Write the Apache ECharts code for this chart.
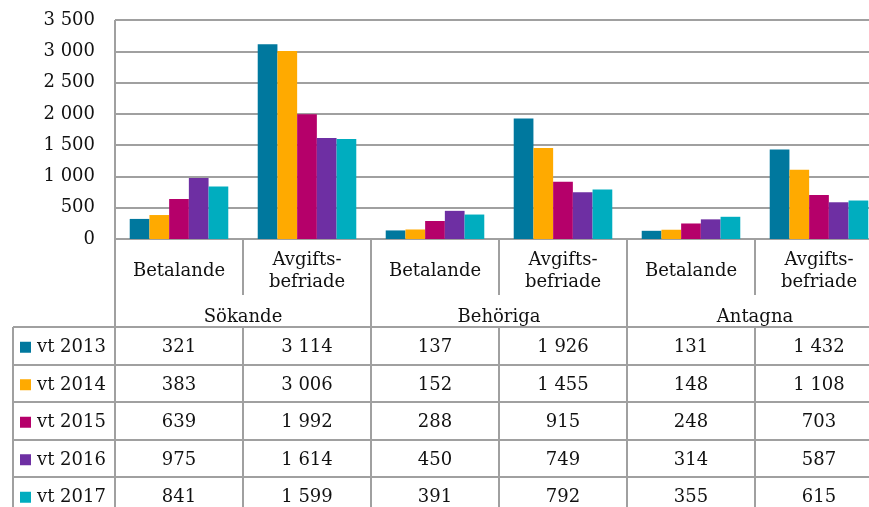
<!DOCTYPE html>
<html>
<head>
<meta charset="utf-8">
<script src="https://cdn.jsdelivr.net/npm/echarts@6/dist/echarts.min.js"></script>
<style>
  html, body { margin: 0; padding: 0; background: #fff; overflow: hidden; }
  /* diagrammet fortsätter lite utanför högerkanten, som i originalet */
  #main { width: 883px; height: 507px; }
</style>
</head>
<body>
<div id="main"></div>
<script>
// kategorier och grupper
const categories = ["Betalande", "Avgifts-\nbefriade", "Betalande", "Avgifts-\nbefriade", "Betalande", "Avgifts-\nbefriade"];
const groups = ["Sökande", "Behöriga", "Antagna"];
const seriesNames = ["vt 2013", "vt 2014", "vt 2015", "vt 2016", "vt 2017"];
const colors = ["#00789e", "#ffaa00", "#b5006a", "#6e2fa3", "#00adbf"];

// värden per termin
const vt2013 = [321, 3114, 137, 1926, 131, 1432];
const vt2014 = [383, 3006, 152, 1455, 148, 1108];
const vt2015 = [639, 1992, 288, 915, 248, 703];
const vt2016 = [975, 1614, 450, 749, 314, 587];
const vt2017 = [841, 1599, 391, 792, 355, 615];
const seriesData = [vt2013, vt2014, vt2015, vt2016, vt2017];

const yTicks = [0, 500, 1000, 1500, 2000, 2500, 3000, 3500];

const FONT = "DejaVu Serif";
const TEXT = "#111";
const LINE = "#a0a0a0";

// tusentalsavgränsare med mellanslag
const fmt = (v) => {
  if (v < 1000) return String(v);
  return Math.floor(v / 1000) + " " + String(v % 1000).padStart(3, "0");
};

const chart = echarts.init(document.getElementById("main"));

const option = {
  animation: false,
  grid: { left: 115, right: 0, top: 20, bottom: 268 },
  xAxis: [
    {
      type: "category",
      data: categories,
      axisLine: { show: true, lineStyle: { color: LINE, width: 2 } },
      axisTick: { show: false },
      axisLabel: {
        interval: 0,
        margin: 32,
        verticalAlign: "middle",
        fontFamily: FONT,
        fontSize: 18,
        lineHeight: 22,
        color: TEXT,
      },
    },
    {
      type: "category",
      data: groups,
      position: "bottom",
      axisLine: { show: false },
      axisTick: { show: false },
      axisLabel: {
        interval: 0,
        margin: 78,
        verticalAlign: "middle",
        fontFamily: FONT,
        fontSize: 18,
        color: TEXT,
      },
    },
  ],
  yAxis: {
    type: "value",
    min: yTicks[0],
    max: yTicks[yTicks.length - 1],
    interval: 500,
    axisLine: { show: false },
    axisTick: { show: false },
    splitLine: { lineStyle: { color: LINE, width: 2 } },
    axisLabel: {
      margin: 20,
      padding: [4, 0, 0, 0],
      formatter: fmt,
      fontFamily: FONT,
      fontSize: 18,
      color: TEXT,
    },
  },
  series: seriesNames.map((name, i) => ({
    name: name,
    type: "bar",
    xAxisIndex: 0,
    data: seriesData[i],
    barGap: "0%",
    barCategoryGap: "23%",
    itemStyle: { color: colors[i] },
  })),
};

chart.setOption(option);

// tabellen under diagrammet
const c0 = chart.convertToPixel({ xAxisIndex: 0 }, 0);
const c1 = chart.convertToPixel({ xAxisIndex: 0 }, 1);
const half = (c1 - c0) / 2;
const xb = (i) => Math.round(c0 - half + i * 2 * half);
const axisY = Math.round(chart.convertToPixel({ yAxisIndex: 0 }, 0));
const topY = Math.round(chart.convertToPixel({ yAxisIndex: 0 }, yTicks[yTicks.length - 1]));
const H = 507;
const tableLeft = 13;
const rowTop = axisY + 88;
const rowH = 37.5;

const g = [];
const line = (x1, y1, x2, y2) =>
  g.push({ type: "line", shape: { x1, y1, x2, y2 }, style: { stroke: LINE, lineWidth: 2 }, silent: true });

line(xb(0), topY, xb(0), H);
[1, 3, 5].forEach((i) => {
  line(xb(i), axisY, xb(i), axisY + 56);
  line(xb(i), rowTop, xb(i), H);
});
[2, 4, 6].forEach((i) => line(xb(i), axisY, xb(i), H));
line(tableLeft, rowTop, tableLeft, H);
for (let k = 0; k < 5; k++) {
  const y = Math.round(rowTop + k * rowH);
  line(tableLeft, y, xb(6), y);
}

seriesNames.forEach((name, r) => {
  const cy = rowTop + r * rowH + rowH / 2 + 2;
  g.push({ type: "rect", shape: { x: 20, y: cy - 6, width: 11, height: 11 }, style: { fill: colors[r] }, silent: true });
  g.push({
    type: "text", x: 37, y: cy,
    style: { text: name, fontFamily: FONT, fontSize: 18, fill: TEXT, verticalAlign: "middle", align: "left" },
    silent: true,
  });
  seriesData[r].forEach((v, c) => {
    g.push({
      type: "text", x: chart.convertToPixel({ xAxisIndex: 0 }, c), y: cy,
      style: { text: fmt(v), fontFamily: FONT, fontSize: 18, fill: TEXT, verticalAlign: "middle", align: "center" },
      silent: true,
    });
  });
});

chart.setOption({ graphic: g });
</script>
</body>
</html>
